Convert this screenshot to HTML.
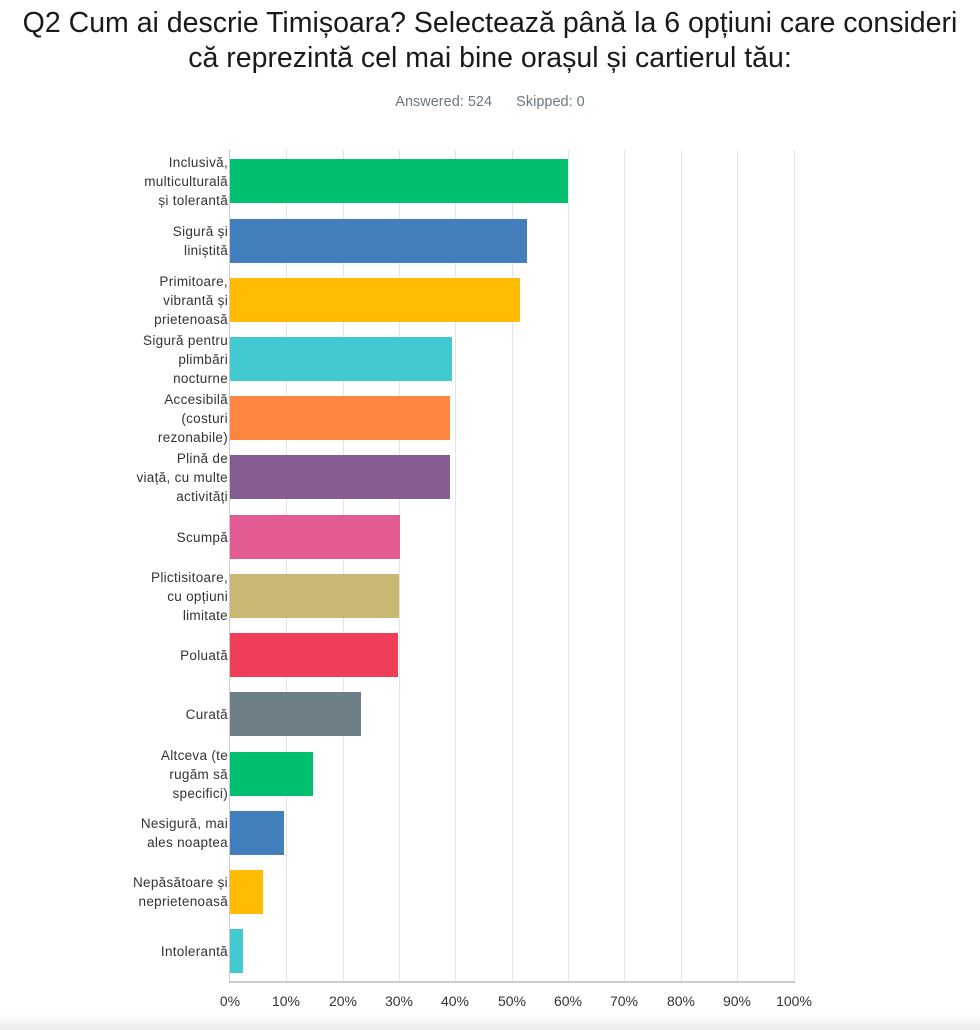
<!DOCTYPE html>
<html><head><meta charset="utf-8"><style>
body{margin:0;width:980px;height:1030px;background:#fff;font-family:"Liberation Sans",sans-serif;position:relative;overflow:hidden}
.t{position:absolute;left:0;width:980px;text-align:center;font-size:28.5px;color:#1a1a1a;line-height:32px;white-space:nowrap}
.s{position:absolute;top:94px;width:980px;text-align:center;font-size:14.5px;color:#6b787f}
.g{position:absolute;top:150px;height:832px;width:1px;background:#e4e4e4}
.b{position:absolute;left:230px;height:44px}
.l{position:absolute;right:752px;width:115px;text-align:right;font-size:13.5px;letter-spacing:0.3px;color:#333;line-height:19px;display:flex;align-items:center;justify-content:flex-end;height:44px}
.x{position:absolute;top:993px;font-size:14px;color:#333;width:50px;text-align:center}
.ft{position:absolute;left:0;top:1014px;width:980px;height:16px;background:linear-gradient(#fff,#ececec)}
</style></head><body>
<div class="t" style="top:7px">Q2 Cum ai descrie Timișoara? Selectează până la 6 opțiuni care consideri</div>
<div class="t" style="top:42px">că reprezintă cel mai bine orașul și cartierul tău:</div>
<div class="s">Answered: 524&nbsp;&nbsp;&nbsp;&nbsp;&nbsp;&nbsp;Skipped: 0</div>
<div class="g" style="left:286px"></div><div class="g" style="left:343px"></div><div class="g" style="left:399px"></div><div class="g" style="left:455px"></div><div class="g" style="left:512px"></div><div class="g" style="left:568px"></div><div class="g" style="left:624px"></div><div class="g" style="left:681px"></div><div class="g" style="left:737px"></div><div class="g" style="left:794px"></div>
<div style="position:absolute;left:229px;top:150px;width:1px;height:832px;background:#ccc"></div>
<div style="position:absolute;left:229px;top:981px;width:566px;height:2px;background:#ccc"></div>
<div class="b" style="top:159px;width:338px;background:#00bf6f"></div>
<div class="b" style="top:219px;width:297px;background:#447fbd"></div>
<div class="b" style="top:278px;width:290px;background:#ffbc00"></div>
<div class="b" style="top:337px;width:222px;background:#41cbd0"></div>
<div class="b" style="top:396px;width:220px;background:#ff8640"></div>
<div class="b" style="top:455px;width:220px;background:#845c92"></div>
<div class="b" style="top:515px;width:170px;background:#e35b93"></div>
<div class="b" style="top:574px;width:169px;background:#c9b774"></div>
<div class="b" style="top:633px;width:168px;background:#f03e59"></div>
<div class="b" style="top:692px;width:131px;background:#6f7f87"></div>
<div class="b" style="top:752px;width:83px;background:#00bf6f"></div>
<div class="b" style="top:811px;width:54px;background:#447fbd"></div>
<div class="b" style="top:870px;width:33px;background:#ffbc00"></div>
<div class="b" style="top:929px;width:13px;background:#41cbd0"></div>
<div class="l" style="top:159px">Inclusivă,<br>multiculturală<br>și tolerantă</div>
<div class="l" style="top:219px">Sigură și<br>liniștită</div>
<div class="l" style="top:278px">Primitoare,<br>vibrantă și<br>prietenoasă</div>
<div class="l" style="top:337px">Sigură pentru<br>plimbări<br>nocturne</div>
<div class="l" style="top:396px">Accesibilă<br>(costuri<br>rezonabile)</div>
<div class="l" style="top:455px">Plină de<br>viață, cu multe<br>activități</div>
<div class="l" style="top:515px">Scumpă</div>
<div class="l" style="top:574px">Plictisitoare,<br>cu opțiuni<br>limitate</div>
<div class="l" style="top:633px">Poluată</div>
<div class="l" style="top:692px">Curată</div>
<div class="l" style="top:752px">Altceva (te<br>rugăm să<br>specifici)</div>
<div class="l" style="top:811px">Nesigură, mai<br>ales noaptea</div>
<div class="l" style="top:870px">Nepăsătoare și<br>neprietenoasă</div>
<div class="l" style="top:929px">Intolerantă</div>
<div class="x" style="left:205px">0%</div><div class="x" style="left:261px">10%</div><div class="x" style="left:318px">20%</div><div class="x" style="left:374px">30%</div><div class="x" style="left:430px">40%</div><div class="x" style="left:487px">50%</div><div class="x" style="left:543px">60%</div><div class="x" style="left:599px">70%</div><div class="x" style="left:656px">80%</div><div class="x" style="left:712px">90%</div><div class="x" style="left:769px">100%</div>
<div class="ft"></div>
</body></html>
